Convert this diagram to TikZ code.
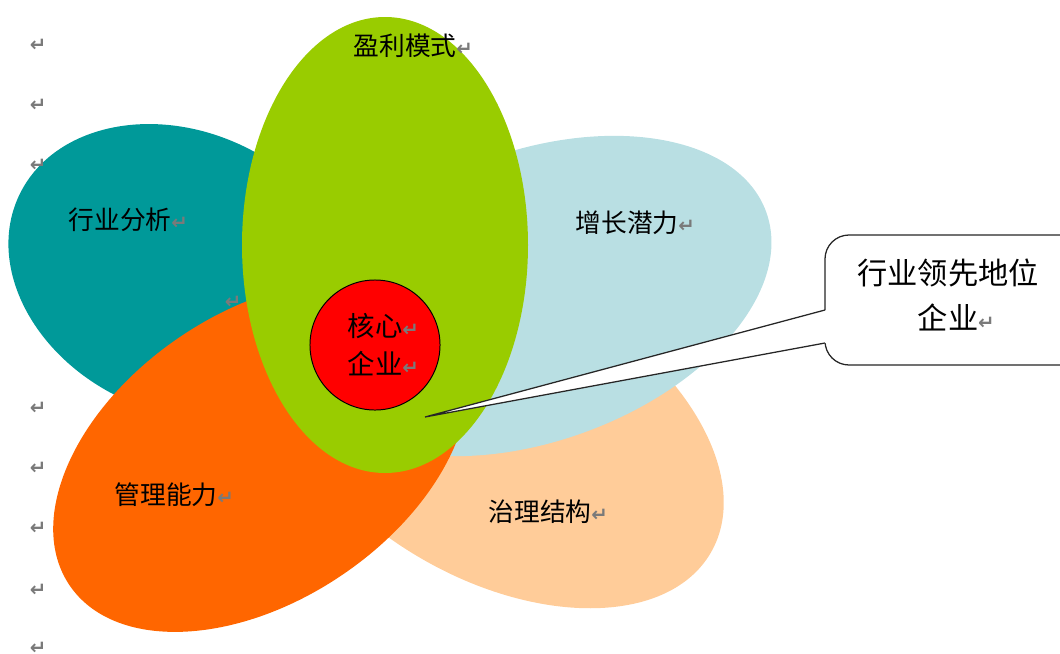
\documentclass[tikz,border=0pt]{standalone}
\usepackage{fontspec}
\setmainfont{Noto Sans CJK SC}
\newfontfamily\markfont{DejaVu Sans}
\definecolor{tealpetal}{HTML}{009999}
\definecolor{bluepetal}{HTML}{B9DFE3}
\definecolor{peachpetal}{HTML}{FFCC99}
\definecolor{orangepetal}{HTML}{FF6600}
\definecolor{greenpetal}{HTML}{99CC00}
\definecolor{markgray}{HTML}{7A7A7A}
\newcommand\pmark{\rlap{\markfont\bfseries\fontsize{14}{14}\selectfont\textcolor{markgray}{↵}}}
\begin{document}
\begin{tikzpicture}[x=0.025cm,y=-0.025cm,
        word/.style={inner sep=0pt,font=\fontsize{18.3}{22}\selectfont},
        retmark/.style={inner sep=0pt,text=markgray,font=\markfont\bfseries\fontsize{14}{14}\selectfont},
        core/.style={circle,draw=black,line width=0.7pt,fill=red,minimum size=3.25cm,
            inner sep=0pt,align=center,font=\fontsize{19.5}{27}\selectfont},
        callout/.style={draw=black!85,line width=0.9pt,fill=white}]
    \useasboundingbox (0,0) rectangle (1060,653);
    %% Petals
    \fill[tealpetal,rotate around={-25:(182,272)}] (182,272) ellipse[x radius=180,y radius=140];
    \foreach \y [count=\i] in {45,105,165,408,468,528,590,648}
        \node[retmark] (r\i) at (38,\y) {↵};
    \node[retmark] (r9) at (233,302) {↵};
    \fill[peachpetal,rotate around={-30:(497,429)}] (497,429) ellipse[x radius=247,y radius=150];
    \fill[bluepetal,rotate around={20:(535,296)}] (535,296) ellipse[x radius=246,y radius=145];
    \fill[orangepetal,rotate around={34:(261,456)}] (261,456) ellipse[x radius=231,y radius=144];
    \fill[greenpetal] (385,245) ellipse[x radius=143,y radius=228];
    %% Core
    \node[core] (core) at (375,345) {核心\pmark\\企业\pmark};
    %% Labels
    \node[word] (profit) at (405,46) {盈利模式\pmark};
    \node[word] (industry) at (120,220) {行业分析\pmark};
    \node[word] (growth) at (627,223) {增长潜力\pmark};
    \node[word] (manage) at (166,495) {管理能力\pmark};
    \node[word] (govern) at (540,512) {治理结构\pmark};
    %% Callout
    \coordinate (tip) at (425,417);
    \coordinate (base1) at (825,310);
    \coordinate (base2) at (825,343);
    \draw[callout,rounded corners=0.6cm] (825,235) rectangle (1090,365);
    \fill[white] (tip) -- ([xshift=1pt]base1) -- ([xshift=1pt]base2) -- cycle;
    \draw[callout] (base1) -- (tip) -- (base2);
    \node[inner sep=0pt,align=center,font=\fontsize{21.5}{32}\selectfont] (lead) at (948,295)
        {行业领先地位\\企业\pmark};
\end{tikzpicture}
\end{document}
